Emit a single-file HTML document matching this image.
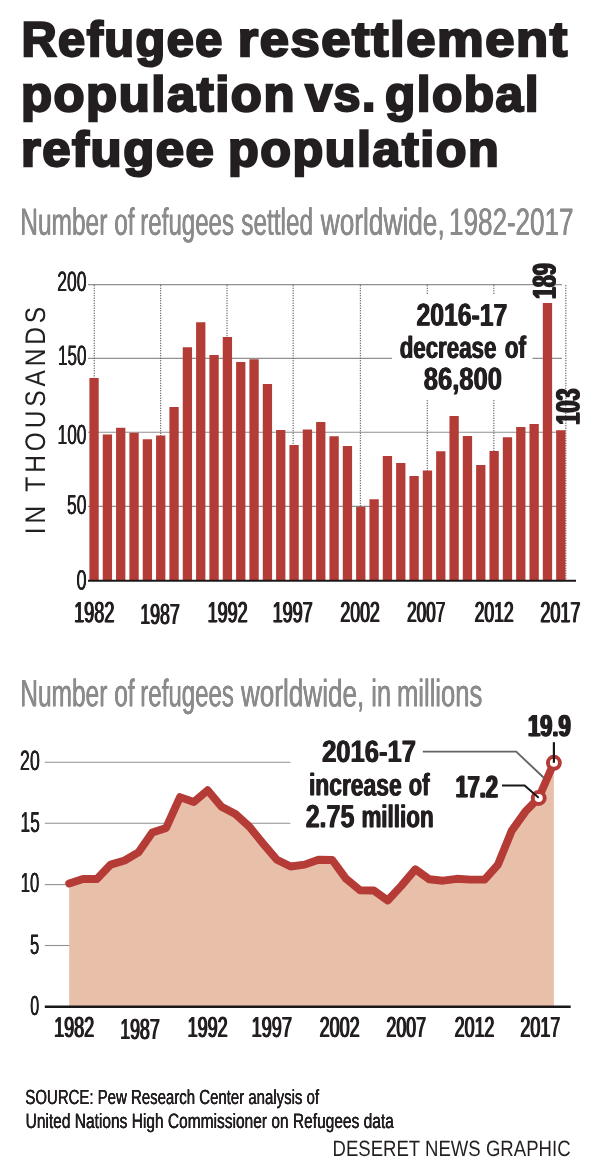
<!DOCTYPE html>
<html lang="en"><head><meta charset="utf-8"><title>Refugee resettlement population vs. global refugee population</title>
<style>
html,body{margin:0;padding:0;background:#fff}
#c{position:relative;width:600px;height:1176px;overflow:hidden;background:#fff;font-family:"Liberation Sans",sans-serif}
#c svg.g{position:absolute;left:0;top:0;display:block}
#c span{position:absolute;left:0;top:0;white-space:nowrap;line-height:1;transform-origin:0 0;display:block;text-rendering:geometricPrecision}
</style></head>
<body>
<div id="c">
<svg class="g" width="600" height="1176" viewBox="0 0 600 1176">
<line x1="88" y1="284.6" x2="562" y2="284.6" stroke="#909090" stroke-width="1.1"/>
<line x1="88" y1="358.4" x2="562" y2="358.4" stroke="#909090" stroke-width="1.1"/>
<line x1="88" y1="432.3" x2="562" y2="432.3" stroke="#909090" stroke-width="1.1"/>
<line x1="88" y1="506.4" x2="562" y2="506.4" stroke="#909090" stroke-width="1.1"/>
<line x1="94.3" y1="285.2" x2="94.3" y2="579" stroke="#4c4c4c" stroke-width="1.25" stroke-dasharray="1.15 1.35"/>
<line x1="160.6" y1="285.2" x2="160.6" y2="579" stroke="#4c4c4c" stroke-width="1.25" stroke-dasharray="1.15 1.35"/>
<line x1="227.0" y1="285.2" x2="227.0" y2="579" stroke="#4c4c4c" stroke-width="1.25" stroke-dasharray="1.15 1.35"/>
<line x1="293.2" y1="285.2" x2="293.2" y2="579" stroke="#4c4c4c" stroke-width="1.25" stroke-dasharray="1.15 1.35"/>
<line x1="360.4" y1="285.2" x2="360.4" y2="579" stroke="#4c4c4c" stroke-width="1.25" stroke-dasharray="1.15 1.35"/>
<line x1="427.3" y1="285.2" x2="427.3" y2="579" stroke="#4c4c4c" stroke-width="1.25" stroke-dasharray="1.15 1.35"/>
<line x1="493.8" y1="285.2" x2="493.8" y2="579" stroke="#4c4c4c" stroke-width="1.25" stroke-dasharray="1.15 1.35"/>
<line x1="565.8" y1="285.2" x2="565.8" y2="579" stroke="#4c4c4c" stroke-width="1.25" stroke-dasharray="1.15 1.35"/>
<rect x="392" y="294" width="140.5" height="105.5" fill="#fff"/>
<path d="M89.40 579.9V378.0h9.3V579.9zM102.74 579.9V434.6h9.3V579.9zM116.07 579.9V427.8h9.3V579.9zM129.41 579.9V432.7h9.3V579.9zM142.74 579.9V439.2h9.3V579.9zM156.08 579.9V435.6h9.3V579.9zM169.42 579.9V407.1h9.3V579.9zM182.75 579.9V347.2h9.3V579.9zM196.09 579.9V322.2h9.3V579.9zM209.42 579.9V355.1h9.3V579.9zM222.76 579.9V336.9h9.3V579.9zM236.10 579.9V362.0h9.3V579.9zM249.43 579.9V359.2h9.3V579.9zM262.77 579.9V383.9h9.3V579.9zM276.10 579.9V429.9h9.3V579.9zM289.44 579.9V444.9h9.3V579.9zM302.78 579.9V429.4h9.3V579.9zM316.11 579.9V422.0h9.3V579.9zM329.45 579.9V436.2h9.3V579.9zM342.78 579.9V446.0h9.3V579.9zM356.12 579.9V506.7h9.3V579.9zM369.46 579.9V499.3h9.3V579.9zM382.79 579.9V456.1h9.3V579.9zM396.13 579.9V462.9h9.3V579.9zM409.46 579.9V475.9h9.3V579.9zM422.80 579.9V470.5h9.3V579.9zM436.14 579.9V451.2h9.3V579.9zM449.47 579.9V416.0h9.3V579.9zM462.81 579.9V436.1h9.3V579.9zM476.14 579.9V465.0h9.3V579.9zM489.48 579.9V451.1h9.3V579.9zM502.82 579.9V437.2h9.3V579.9zM516.15 579.9V427.0h9.3V579.9zM529.49 579.9V424.0h9.3V579.9zM542.82 579.9V303.1h9.3V579.9zM556.16 579.9V430.2h9.3V579.9z" fill="#b33c36"/>
<line x1="88" y1="580.8" x2="576" y2="580.8" stroke="#1a1718" stroke-width="2"/>
<line x1="44.8" y1="762.3" x2="290.4" y2="762.3" stroke="#909090" stroke-width="1.1"/>
<line x1="44.8" y1="823.2" x2="290.4" y2="823.2" stroke="#909090" stroke-width="1.1"/>
<line x1="44.8" y1="884.6" x2="70" y2="884.6" stroke="#909090" stroke-width="1.1"/>
<line x1="44.8" y1="945.5" x2="70" y2="945.5" stroke="#909090" stroke-width="1.1"/>
<polygon points="69.2,1006.7 69.2,883.5 83.0,878.9 96.9,879.0 110.7,864.6 124.6,860.5 138.4,852.4 152.3,832.5 166.1,827.9 180.0,797.1 193.8,802.0 207.7,790.3 221.5,806.7 235.4,814.0 249.2,826.5 263.0,843.4 276.9,859.7 290.7,866.5 304.6,864.6 318.4,859.7 332.3,860.0 346.1,878.8 360.0,890.2 373.8,890.5 387.7,900.5 401.5,885.6 415.3,869.3 429.2,879.3 443.0,880.7 456.9,878.8 470.7,879.6 484.6,879.6 498.0,864.6 511.8,830.6 525.4,811.6 538.7,798.0 553.9,762.8 553.9,1006.7" fill="#e8bfa9"/>
<polyline points="69.2,883.5 83.0,878.9 96.9,879.0 110.7,864.6 124.6,860.5 138.4,852.4 152.3,832.5 166.1,827.9 180.0,797.1 193.8,802.0 207.7,790.3 221.5,806.7 235.4,814.0 249.2,826.5 263.0,843.4 276.9,859.7 290.7,866.5 304.6,864.6 318.4,859.7 332.3,860.0 346.1,878.8 360.0,890.2 373.8,890.5 387.7,900.5 401.5,885.6 415.3,869.3 429.2,879.3 443.0,880.7 456.9,878.8 470.7,879.6 484.6,879.6 498.0,864.6 511.8,830.6 525.4,811.6 538.7,798.0 553.9,762.8" fill="none" stroke="#b53b37" stroke-width="7.9" stroke-linejoin="round" stroke-linecap="round"/>
<line x1="44.8" y1="1006.7" x2="570.7" y2="1006.7" stroke="#1a1718" stroke-width="2.4"/>
<polyline points="422.8,751.6 516.2,751.6 543.8,777.8" fill="none" stroke="#646464" stroke-width="1.9"/>
<circle cx="538.7" cy="798.0" r="6" fill="#fff" stroke="#b53b37" stroke-width="3.9"/>
<circle cx="553.9" cy="762.8" r="6" fill="#fff" stroke="#b53b37" stroke-width="3.9"/>
<polyline points="502,785.4 524.6,785.4 538.7,797.7" fill="none" stroke="#1a1718" stroke-width="2"/>
<line x1="553.9" y1="742.2" x2="553.9" y2="762.8" stroke="#1a1718" stroke-width="2.2"/>
</svg>
<span style="font-size:32px;font-weight:700;color:#231f20;letter-spacing:0.03em;-webkit-text-stroke:1.5px #231f20;transform:translate(21.49px,14.77px) scale(1.5213,1.5301)">Refugee </span>
<span style="font-size:32px;font-weight:700;color:#231f20;letter-spacing:0.03em;-webkit-text-stroke:1.5px #231f20;transform:translate(237.69px,14.66px) scale(1.6403,1.5269)">resettlement</span>
<span style="font-size:32px;font-weight:700;color:#231f20;letter-spacing:0.03em;-webkit-text-stroke:1.5px #231f20;transform:translate(20.89px,69.39px) scale(1.5890,1.5378)">population </span>
<span style="font-size:32px;font-weight:700;color:#231f20;letter-spacing:0.03em;-webkit-text-stroke:1.5px #231f20;transform:translate(305.23px,69.39px) rotate(0.05deg) scale(1.5147,1.5332)">vs. </span>
<span style="font-size:32px;font-weight:700;color:#231f20;letter-spacing:0.03em;-webkit-text-stroke:1.5px #231f20;transform:translate(385.03px,69.39px) scale(1.5494,1.5378)">global</span>
<span style="font-size:32px;font-weight:700;color:#231f20;letter-spacing:0.03em;-webkit-text-stroke:1.5px #231f20;transform:translate(20.96px,124.83px) scale(1.5894,1.5352)">refugee </span>
<span style="font-size:32px;font-weight:700;color:#231f20;letter-spacing:0.03em;-webkit-text-stroke:1.5px #231f20;transform:translate(228.04px,124.83px) scale(1.5723,1.5352)">population</span>
<span style="font-size:32px;font-weight:400;color:#8b8b8b;text-shadow:0.33px 0 0 #8b8b8b,-0.33px 0 0 #8b8b8b;transform:translate(20.24px,202.72px) rotate(0.05deg) scale(0.7657,1.1833)">Number </span>
<span style="font-size:32px;font-weight:400;color:#8b8b8b;text-shadow:0.33px 0 0 #8b8b8b,-0.33px 0 0 #8b8b8b;transform:translate(114.18px,202.72px) rotate(0.05deg) scale(0.7629,1.1833)">of </span>
<span style="font-size:32px;font-weight:400;color:#8b8b8b;text-shadow:0.33px 0 0 #8b8b8b,-0.33px 0 0 #8b8b8b;transform:translate(140.38px,202.72px) rotate(0.05deg) scale(0.7521,1.1843)">refugees </span>
<span style="font-size:32px;font-weight:400;color:#8b8b8b;text-shadow:0.33px 0 0 #8b8b8b,-0.33px 0 0 #8b8b8b;transform:translate(241.30px,202.77px) rotate(0.05deg) scale(0.7613,1.1824)">settled </span>
<span style="font-size:32px;font-weight:400;color:#8b8b8b;text-shadow:0.31px 0 0 #8b8b8b,-0.31px 0 0 #8b8b8b;transform:translate(320.81px,202.77px) rotate(0.05deg) scale(0.8196,1.1824)">worldwide, </span>
<span style="font-size:32px;font-weight:400;color:#8b8b8b;text-shadow:0.31px 0 0 #8b8b8b,-0.31px 0 0 #8b8b8b;transform:translate(448.98px,202.72px) rotate(0.05deg) scale(0.8142,1.1843)">1982-2017</span>
<span style="font-size:32px;font-weight:400;color:#8b8b8b;text-shadow:0.33px 0 0 #8b8b8b,-0.33px 0 0 #8b8b8b;transform:translate(20.24px,674.03px) rotate(0.05deg) scale(0.7662,1.1932)">Number </span>
<span style="font-size:32px;font-weight:400;color:#8b8b8b;text-shadow:0.33px 0 0 #8b8b8b,-0.33px 0 0 #8b8b8b;transform:translate(114.16px,674.03px) rotate(0.05deg) scale(0.7670,1.1932)">of </span>
<span style="font-size:32px;font-weight:400;color:#8b8b8b;text-shadow:0.33px 0 0 #8b8b8b,-0.33px 0 0 #8b8b8b;transform:translate(140.34px,674.03px) rotate(0.05deg) scale(0.7515,1.1932)">refugees </span>
<span style="font-size:32px;font-weight:400;color:#8b8b8b;text-shadow:0.31px 0 0 #8b8b8b,-0.31px 0 0 #8b8b8b;transform:translate(240.99px,674.00px) rotate(0.05deg) scale(0.8161,1.1973)">worldwide, </span>
<span style="font-size:32px;font-weight:400;color:#8b8b8b;text-shadow:0.32px 0 0 #8b8b8b,-0.32px 0 0 #8b8b8b;transform:translate(371.37px,674.03px) rotate(0.05deg) scale(0.7894,1.1932)">in </span>
<span style="font-size:32px;font-weight:400;color:#8b8b8b;text-shadow:0.31px 0 0 #8b8b8b,-0.31px 0 0 #8b8b8b;transform:translate(396.96px,674.03px) rotate(0.05deg) scale(0.7999,1.1932)">millions</span>
<span style="font-size:32px;font-weight:400;color:#231f20;text-shadow:0.46px 0 0 #231f20,-0.46px 0 0 #231f20;transform:translate(57.31px,267.05px) rotate(0.05deg) scale(0.5465,0.8700)">200</span>
<span style="font-size:32px;font-weight:400;color:#231f20;text-shadow:0.47px 0 0 #231f20,-0.47px 0 0 #231f20;transform:translate(58.10px,341.59px) rotate(0.05deg) scale(0.5298,0.8750)">150</span>
<span style="font-size:32px;font-weight:400;color:#231f20;text-shadow:0.46px 0 0 #231f20,-0.46px 0 0 #231f20;transform:translate(57.58px,421.13px) rotate(0.05deg) scale(0.5414,0.8617)">100</span>
<span style="font-size:32px;font-weight:400;color:#231f20;text-shadow:0.46px 0 0 #231f20,-0.46px 0 0 #231f20;transform:translate(67.07px,491.33px) rotate(0.05deg) scale(0.5427,0.8552)">50</span>
<span style="font-size:32px;font-weight:400;color:#231f20;text-shadow:0.44px 0 0 #231f20,-0.44px 0 0 #231f20;transform:translate(76.45px,566.01px) rotate(0.05deg) scale(0.5634,0.8728)">0</span>
<span style="font-size:32px;font-weight:400;color:#231f20;letter-spacing:0.16em;transform:translate(21.09px,534.27px) rotate(-90deg) scale(0.7642,0.8860)">IN THOUSANDS</span>
<span style="font-size:32px;font-weight:400;color:#231f20;text-shadow:1.06px 0 0 #231f20,-1.06px 0 0 #231f20;transform:translate(74.19px,597.44px) rotate(0.05deg) scale(0.5643,0.9198)">1982</span>
<span style="font-size:32px;font-weight:400;color:#231f20;text-shadow:1.08px 0 0 #231f20,-1.08px 0 0 #231f20;transform:translate(140.28px,599.42px) rotate(0.05deg) scale(0.5551,0.9107)">1987</span>
<span style="font-size:32px;font-weight:400;color:#231f20;text-shadow:1.07px 0 0 #231f20,-1.07px 0 0 #231f20;transform:translate(207.63px,597.54px) rotate(0.05deg) scale(0.5608,0.9154)">1992</span>
<span style="font-size:32px;font-weight:400;color:#231f20;text-shadow:1.07px 0 0 #231f20,-1.07px 0 0 #231f20;transform:translate(272.62px,597.44px) rotate(0.05deg) scale(0.5621,0.9177)">1997</span>
<span style="font-size:32px;font-weight:400;color:#231f20;text-shadow:1.08px 0 0 #231f20,-1.08px 0 0 #231f20;transform:translate(340.40px,597.62px) rotate(0.05deg) scale(0.5533,0.9062)">2002</span>
<span style="font-size:32px;font-weight:400;color:#231f20;text-shadow:1.12px 0 0 #231f20,-1.12px 0 0 #231f20;transform:translate(407.08px,597.73px) rotate(0.05deg) scale(0.5375,0.9120)">2007</span>
<span style="font-size:32px;font-weight:400;color:#231f20;text-shadow:1.10px 0 0 #231f20,-1.10px 0 0 #231f20;transform:translate(474.72px,597.61px) rotate(0.05deg) scale(0.5475,0.9076)">2012</span>
<span style="font-size:32px;font-weight:400;color:#231f20;text-shadow:1.07px 0 0 #231f20,-1.07px 0 0 #231f20;transform:translate(540.42px,597.45px) rotate(0.05deg) scale(0.5610,0.9143)">2017</span>
<span style="font-size:32px;font-weight:700;color:#231f20;text-shadow:0.65px 0 0 #231f20,-0.65px 0 0 #231f20;transform:translate(416.46px,298.92px) rotate(0.05deg) scale(0.7733,0.9873)">2016-17</span>
<span style="font-size:32px;font-weight:700;color:#231f20;text-shadow:0.72px 0 0 #231f20,-0.72px 0 0 #231f20;transform:translate(399.68px,331.99px) rotate(0.05deg) scale(0.6967,0.9617)">decrease </span>
<span style="font-size:32px;font-weight:700;color:#231f20;text-shadow:0.71px 0 0 #231f20,-0.71px 0 0 #231f20;transform:translate(504.85px,331.71px) rotate(0.05deg) scale(0.7052,0.9711)">of</span>
<span style="font-size:32px;font-weight:700;color:#231f20;text-shadow:0.63px 0 0 #231f20,-0.63px 0 0 #231f20;transform:translate(423.73px,363.04px) rotate(0.05deg) scale(0.7990,0.9825)">86,800</span>
<span style="font-size:32px;font-weight:700;color:#231f20;text-shadow:1.28px 0 0 #231f20,-1.28px 0 0 #231f20;transform:translate(527.57px,298.87px) rotate(-89.95deg) scale(0.6651,1.0401)">189</span>
<span style="font-size:32px;font-weight:700;color:#231f20;text-shadow:1.26px 0 0 #231f20,-1.26px 0 0 #231f20;transform:translate(550.83px,424.67px) rotate(-89.95deg) scale(0.6757,1.0595)">103</span>
<span style="font-size:32px;font-weight:400;color:#231f20;text-shadow:0.45px 0 0 #231f20,-0.45px 0 0 #231f20;transform:translate(20.13px,745.98px) rotate(0.05deg) scale(0.5497,0.8733)">20</span>
<span style="font-size:32px;font-weight:400;color:#231f20;text-shadow:0.47px 0 0 #231f20,-0.47px 0 0 #231f20;transform:translate(20.62px,807.51px) rotate(0.05deg) scale(0.5360,0.8980)">15</span>
<span style="font-size:32px;font-weight:400;color:#231f20;text-shadow:0.48px 0 0 #231f20,-0.48px 0 0 #231f20;transform:translate(20.78px,869.19px) rotate(0.05deg) scale(0.5158,0.8620)">10</span>
<span style="font-size:32px;font-weight:400;color:#231f20;text-shadow:0.48px 0 0 #231f20,-0.48px 0 0 #231f20;transform:translate(30.03px,929.79px) rotate(0.05deg) scale(0.5173,0.8799)">5</span>
<span style="font-size:32px;font-weight:400;color:#231f20;text-shadow:0.50px 0 0 #231f20,-0.50px 0 0 #231f20;transform:translate(30.29px,991.80px) rotate(0.05deg) scale(0.4983,0.8648)">0</span>
<span style="font-size:32px;font-weight:400;color:#231f20;text-shadow:1.07px 0 0 #231f20,-1.07px 0 0 #231f20;transform:translate(54.22px,1012.58px) rotate(0.05deg) scale(0.5622,0.9015)">1982</span>
<span style="font-size:32px;font-weight:400;color:#231f20;text-shadow:1.08px 0 0 #231f20,-1.08px 0 0 #231f20;transform:translate(120.25px,1014.33px) rotate(0.05deg) scale(0.5546,0.9097)">1987</span>
<span style="font-size:32px;font-weight:400;color:#231f20;text-shadow:1.07px 0 0 #231f20,-1.07px 0 0 #231f20;transform:translate(187.59px,1012.51px) rotate(0.05deg) scale(0.5629,0.9042)">1992</span>
<span style="font-size:32px;font-weight:400;color:#231f20;text-shadow:1.06px 0 0 #231f20,-1.06px 0 0 #231f20;transform:translate(251.58px,1012.64px) rotate(0.05deg) scale(0.5678,0.9050)">1997</span>
<span style="font-size:32px;font-weight:400;color:#231f20;text-shadow:1.07px 0 0 #231f20,-1.07px 0 0 #231f20;transform:translate(319.67px,1012.45px) rotate(0.05deg) scale(0.5622,0.9051)">2002</span>
<span style="font-size:32px;font-weight:400;color:#231f20;text-shadow:1.08px 0 0 #231f20,-1.08px 0 0 #231f20;transform:translate(386.46px,1012.46px) rotate(0.05deg) scale(0.5556,0.9045)">2007</span>
<span style="font-size:32px;font-weight:400;color:#231f20;text-shadow:1.08px 0 0 #231f20,-1.08px 0 0 #231f20;transform:translate(454.70px,1012.47px) rotate(0.05deg) scale(0.5579,0.9079)">2012</span>
<span style="font-size:32px;font-weight:400;color:#231f20;text-shadow:1.07px 0 0 #231f20,-1.07px 0 0 #231f20;transform:translate(520.38px,1012.45px) rotate(0.05deg) scale(0.5596,0.9090)">2017</span>
<span style="font-size:32px;font-weight:700;color:#231f20;text-shadow:0.63px 0 0 #231f20,-0.63px 0 0 #231f20;transform:translate(322.15px,735.90px) rotate(0.05deg) scale(0.7985,0.9664)">2016-17</span>
<span style="font-size:32px;font-weight:700;color:#231f20;text-shadow:0.70px 0 0 #231f20,-0.70px 0 0 #231f20;transform:translate(308.98px,769.18px) rotate(0.05deg) scale(0.7142,0.9692)">increase </span>
<span style="font-size:32px;font-weight:700;color:#231f20;text-shadow:0.73px 0 0 #231f20,-0.73px 0 0 #231f20;transform:translate(408.85px,769.17px) rotate(0.05deg) scale(0.6839,0.9695)">of</span>
<span style="font-size:32px;font-weight:700;color:#231f20;text-shadow:0.64px 0 0 #231f20,-0.64px 0 0 #231f20;transform:translate(305.66px,800.22px) rotate(0.05deg) scale(0.7813,1.0045)">2.75 </span>
<span style="font-size:32px;font-weight:700;color:#231f20;text-shadow:0.71px 0 0 #231f20,-0.71px 0 0 #231f20;transform:translate(361.41px,800.68px) rotate(0.05deg) scale(0.7011,0.9796)">million</span>
<span style="font-size:32px;font-weight:700;color:#231f20;text-shadow:1.31px 0 0 #231f20,-1.31px 0 0 #231f20;transform:translate(528.03px,710.27px) rotate(0.05deg) scale(0.6851,0.9599)">19.9</span>
<span style="font-size:32px;font-weight:700;color:#231f20;text-shadow:1.33px 0 0 #231f20,-1.33px 0 0 #231f20;transform:translate(455.64px,770.91px) rotate(0.05deg) scale(0.6770,0.9801)">17.2</span>
<span style="font-size:32px;font-weight:400;color:#231f20;text-shadow:0.32px 0 0 #231f20,-0.32px 0 0 #231f20;transform:translate(25.34px,1086.87px) scale(0.4679,0.6388)">SOURCE: Pew Research Center analysis of</span>
<span style="font-size:32px;font-weight:400;color:#231f20;text-shadow:0.31px 0 0 #231f20,-0.31px 0 0 #231f20;transform:translate(25.62px,1110.43px) scale(0.4848,0.6495)">United Nations High Commissioner on Refugees data</span>
<span style="font-size:32px;font-weight:400;color:#231f20;transform:translate(332.47px,1137.05px) scale(0.5805,0.6909)">DESERET NEWS GRAPHIC</span>
</div>
</body></html>
